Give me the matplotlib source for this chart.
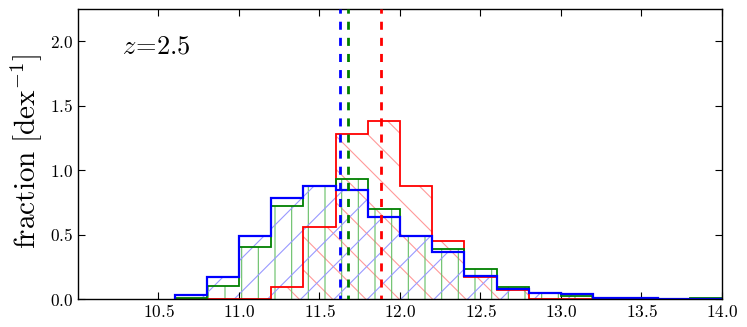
import numpy as np
import matplotlib
matplotlib.use("Agg")
import matplotlib.pyplot as plt

plt.rcParams['mathtext.fontset'] = 'cm'
plt.rcParams['font.family'] = 'serif'
plt.rcParams['font.serif'] = ['DejaVu Serif']
plt.rcParams['hatch.linewidth'] = 0.8

# bin edges (log stellar mass), 0.2 dex wide
edges = [10.6, 10.8, 11.0, 11.2, 11.4, 11.6, 11.8, 12.0, 12.2, 12.4,
         12.6, 12.8, 13.0, 13.2, 13.4, 13.6, 13.8, 14.0]
blue_vals = [0.03, 0.17, 0.49, 0.78, 0.88, 0.845, 0.635, 0.49, 0.365, 0.175,
             0.075, 0.044, 0.036, 0.008, 0.008, 0.0, 0.0]
green_vals = [0.005, 0.10, 0.405, 0.725, 0.88, 0.93, 0.70, 0.49, 0.39, 0.232,
              0.093, 0.044, 0.02, 0.004, 0.0, 0.0, 0.005]
red_vals = [0.0, 0.0, 0.0, 0.093, 0.558, 1.277, 1.38, 0.876, 0.45, 0.173,
            0.07, 0.0, 0.0, 0.0, 0.0, 0.0, 0.0]
medians = {'blue': 11.627, 'green': 11.679, 'red': 11.88}

xticks = [10.5, 11.0, 11.5, 12.0, 12.5, 13.0, 13.5, 14.0]
yticks = [0.0, 0.5, 1.0, 1.5, 2.0]

fig = plt.figure(figsize=(7.47, 3.27), dpi=100)
ax = fig.add_axes([0.1044, 0.0856, 0.8621, 0.887])

e = np.array(edges)
w = np.diff(e)

series = [
    (red_vals, '\\', (1.0, 0.6, 0.6), (1, 0, 0), 1.3, 'red'),
    (green_vals, '|', (0.4, 0.75, 0.4), (0, 0.5, 0), 1.3, 'green'),
    (blue_vals, '/', (0.6, 0.6, 1.0), (0, 0, 1), 1.6, 'blue'),
]
for vals, hatch, hc, _, _, _ in series:
    ax.bar(e[:-1], vals, width=w, align='edge', fill=False, hatch=hatch,
           edgecolor=hc, linewidth=0, zorder=1)
for vals, _, _, lc, lw, _ in series:
    ax.stairs(vals, e, baseline=0, fill=False, color=lc, linewidth=lw, zorder=2)

for name, c in [('red', (1, 0, 0)), ('green', (0, 0.5, 0)), ('blue', (0, 0, 1))]:
    ax.axvline(medians[name], color=c, linewidth=2.0,
               linestyle=(1.5, (2.9, 2.9)), zorder=3)

ax.set_xlim(10.0, 14.0)
ax.set_ylim(0.0, 2.25)
ax.set_xticks(xticks)
ax.set_yticks(yticks)
ax.set_xticklabels([f'${t:.1f}$' for t in xticks], fontsize=12.5)
ax.set_yticklabels([f'${t:.1f}$' for t in yticks], fontsize=12.5)
ax.tick_params(direction='in', top=True, right=True, length=5, width=0.8)
for s in ax.spines.values():
    s.set_linewidth(1.0)

ax.set_ylabel(r'$\mathrm{fraction}\ [\mathrm{dex}^{-1}]$', fontsize=21)
ax.yaxis.set_label_coords(-0.052, 0.51)
ax.text(0.068, 0.848, r'$z\!=\!2.5$', transform=ax.transAxes, fontsize=19,
        va='baseline', ha='left')

fig.savefig('out.png', dpi=100)
